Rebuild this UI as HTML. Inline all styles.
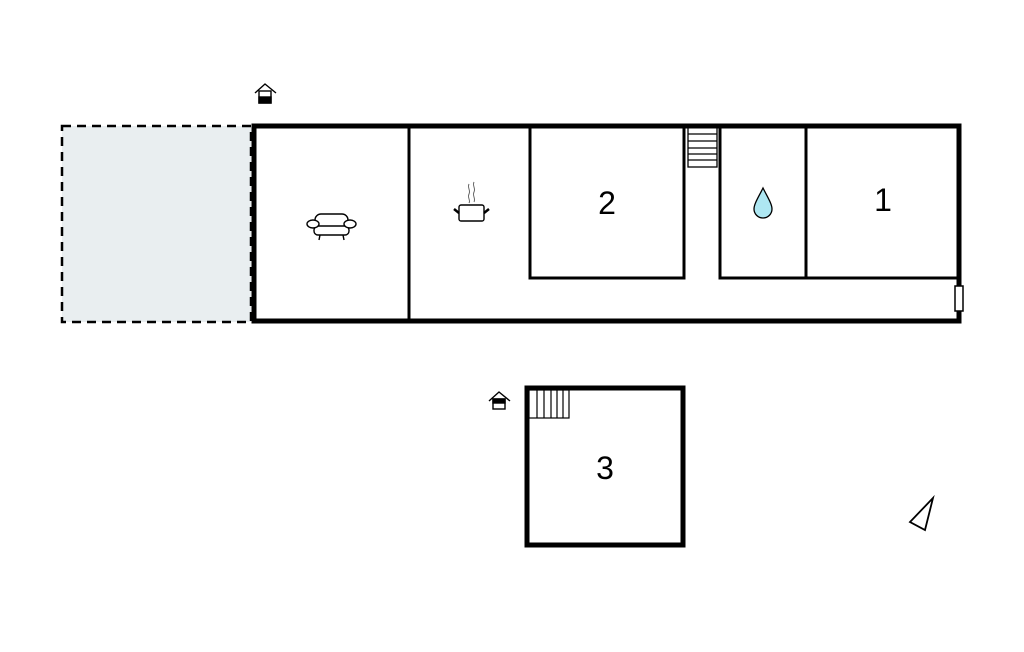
<!DOCTYPE html>
<html><head><meta charset="utf-8"><style>
html,body{margin:0;padding:0;background:#fff;width:1024px;height:652px;overflow:hidden}
svg{display:block}
text{font-family:"Liberation Sans",sans-serif}
</style></head><body>
<svg width="1024" height="652" viewBox="0 0 1024 652" xmlns="http://www.w3.org/2000/svg">
<rect x="62" y="126" width="189" height="196" fill="#e9eef0" stroke="#000" stroke-width="2.5" stroke-dasharray="9,6"/>
<g stroke="#000" stroke-width="3" fill="none">
<line x1="409" y1="125" x2="409" y2="322"/>
<polyline points="530,125 530,278 684,278 684,125"/>
<polyline points="720,125 720,278 958,278"/>
<line x1="806" y1="125" x2="806" y2="278"/>
</g>
<g stroke="#000" stroke-width="1.3" fill="#fff">
<rect x="688" y="127" width="29" height="40"/>
<line x1="688" y1="134" x2="717" y2="134"/>
<line x1="688" y1="141" x2="717" y2="141"/>
<line x1="688" y1="148" x2="717" y2="148"/>
<line x1="688" y1="154" x2="717" y2="154"/>
<line x1="688" y1="160" x2="717" y2="160"/>
</g>
<rect x="254" y="126" width="705" height="195" fill="none" stroke="#000" stroke-width="5"/>
<rect x="955" y="286" width="8" height="25" fill="#fff" stroke="#000" stroke-width="1.5"/>
<text x="607" y="214" font-size="32" text-anchor="middle">2</text>
<text x="883" y="211" font-size="32" text-anchor="middle">1</text>
<text x="605" y="479" font-size="32" text-anchor="middle">3</text>
<path d="M763,188 C758,198 754,204 754,209 A9,9 0 0 0 772,209 C772,204 768,198 763,188 Z" fill="#aee7f2" stroke="#000" stroke-width="1.3"/>
<g stroke="#000" stroke-width="1.4" fill="#fff">
<rect x="315" y="214" width="33" height="15" rx="6"/>
<rect x="314" y="226" width="35" height="9" rx="4"/>
<ellipse cx="313" cy="224" rx="6" ry="4"/>
<ellipse cx="350" cy="224" rx="6" ry="4"/>
<line x1="320" y1="235" x2="319" y2="240"/>
<line x1="343" y1="235" x2="344" y2="240"/>
</g>
<g stroke="#000" stroke-width="1.4" fill="#fff">
<rect x="459" y="205" width="25" height="16" rx="2"/>
<line x1="454" y1="209" x2="459" y2="213" stroke-width="2.5"/>
<line x1="489" y1="209" x2="484" y2="213" stroke-width="2.5"/>
<path d="M469,184 c-2,4 2,6 0,10 c-2,4 2,6 0,9" fill="none" stroke="#666" stroke-width="1"/>
<path d="M474,182 c-2,4 2,6 0,10 c-2,4 2,6 0,10" fill="none" stroke="#666" stroke-width="1"/>
</g>
<g stroke="#000" stroke-width="1.4">
<polyline points="255,93 265,84 276,93" fill="none"/>
<rect x="259" y="91" width="12" height="12" fill="#fff"/>
<rect x="259" y="97" width="12" height="6" fill="#000"/>
<polyline points="489,401 499,392 510,401" fill="none"/>
<rect x="493" y="399" width="12" height="10" fill="#fff"/>
<rect x="493" y="399" width="12" height="4" fill="#000"/>
</g>
<rect x="527" y="388" width="156" height="157" fill="none" stroke="#000" stroke-width="5"/>
<g stroke="#000" stroke-width="1.2" fill="none">
<rect x="529" y="390" width="40" height="28"/>
<line x1="537" y1="390" x2="537" y2="418"/>
<line x1="544" y1="390" x2="544" y2="418"/>
<line x1="551" y1="390" x2="551" y2="418"/>
<line x1="557" y1="390" x2="557" y2="418"/>
<line x1="563" y1="390" x2="563" y2="418"/>
</g>
<polygon points="933,498 910,522 925,530" fill="#fff" stroke="#000" stroke-width="1.8"/>
</svg>
</body></html>
